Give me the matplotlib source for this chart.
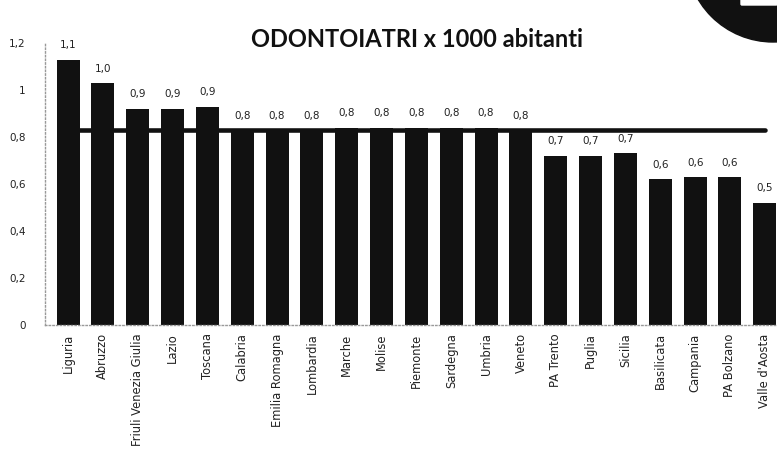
import matplotlib
matplotlib.use("Agg")
import matplotlib.pyplot as plt
from matplotlib.patches import Circle, FancyBboxPatch
import numpy as np

regions = ["Liguria", "Abruzzo", "Friuli Venezia Giulia", "Lazio", "Toscana",
           "Calabria", "Emilia Romagna", "Lombardia", "Marche", "Molise",
           "Piemonte", "Sardegna", "Umbria", "Veneto", "PA Trento", "Puglia",
           "Sicilia", "Basilicata", "Campania", "PA Bolzano", "Valle d'Aosta"]
values = [1.13, 1.03, 0.92, 0.92, 0.93, 0.83, 0.83, 0.83, 0.84, 0.84,
          0.84, 0.84, 0.84, 0.83, 0.72, 0.72, 0.73, 0.62, 0.63, 0.63, 0.52]
value_labels = ["1,1", "1,0", "0,9", "0,9", "0,9", "0,8", "0,8", "0,8", "0,8", "0,8",
                "0,8", "0,8", "0,8", "0,8", "0,7", "0,7", "0,7", "0,6", "0,6", "0,6", "0,5"]
italy_avg = 0.83
yticks = [0, 0.2, 0.4, 0.6, 0.8, 1.0, 1.2]
ytick_labels = ["0", "0,2", "0,4", "0,6", "0,8", "1", "1,2"]
title = "ODONTOIATRI x 1000 abitanti"

plt.rcParams['font.family'] = ['DejaVu Sans']

fig = plt.figure(figsize=(7.77, 4.63), dpi=100)
ax = fig.add_axes([0.058, 0.298, 0.942, 0.609])

x = np.arange(len(regions))
ax.plot([x[0], x[-1]], [italy_avg, italy_avg], color="#111111", lw=3.3, zorder=1,
        solid_capstyle="round")
ax.bar(x, values, width=0.66, color="#111111", zorder=2)

for xi, v, lab in zip(x, values, value_labels):
    ax.text(xi, v + 0.04, lab, ha="center", va="bottom", fontsize=7.5, color="#222222")

ax.set_xlim(-0.66, 20.35)
ax.set_ylim(0, 1.2)
ax.set_yticks(yticks)
ax.set_yticklabels(ytick_labels, fontsize=7.5, color="#222222")
ax.set_xticks(x)
ax.set_xticklabels(regions, rotation=90, fontsize=8.3, color="#222222")
ax.tick_params(axis="y", length=0, pad=14)
ax.tick_params(axis="x", length=0, pad=6)

for s in ["top", "right"]:
    ax.spines[s].set_visible(False)
for s in ["left", "bottom"]:
    ax.spines[s].set_color("#999999")
    ax.spines[s].set_linestyle(":")
    ax.spines[s].set_linewidth(1)

fig.text(0.537, 0.915, title, ha="center", va="center", fontsize=17,
         fontweight="bold", color="#111111", family=["Lato", "DejaVu Sans"])

logo = Circle((7.73, 5.08), 0.87, transform=fig.dpi_scale_trans,
              color="#111111", zorder=5)
fig.patches.append(logo)
inner = FancyBboxPatch((7.42, 4.59), 0.34, 0.06, boxstyle="round,pad=0.01",
                       transform=fig.dpi_scale_trans, color="white", zorder=6)
fig.patches.append(inner)

fig.savefig("out.png", dpi=100, facecolor="white")
